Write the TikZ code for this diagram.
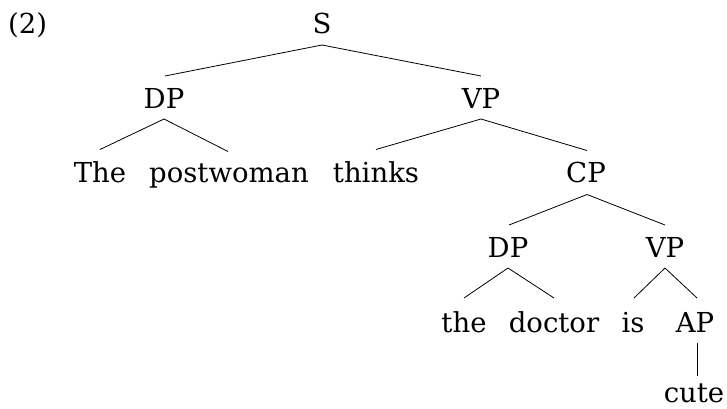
\documentclass[tikz,border=0pt]{standalone}
\usepackage{fontspec}
\setmainfont{DejaVu Serif}
\begin{document}
\begin{tikzpicture}[x=1pt,y=-1pt,
  lbl/.style={anchor=base,inner sep=0pt,font=\fontsize{27.5}{33}\selectfont},
  edge/.style={draw=black,line width=0.8pt}]
\useasboundingbox (0,0) rectangle (727,408);
\node[lbl,anchor=base west] (ex) at (8,33) {(2)};
\node[lbl] (S) at (322,33) {S};
\node[lbl] (DP1) at (164,108) {DP};
\node[lbl] (VP1) at (481,108) {VP};
\node[lbl] (The) at (100,182.5) {The};
\node[lbl] (pw) at (229,182.5) {postwoman};
\node[lbl] (thinks) at (376,182.5) {thinks};
\node[lbl] (CP) at (586,182.5) {CP};
\node[lbl] (DP2) at (508,257) {DP};
\node[lbl] (VP2) at (665,257) {VP};
\node[lbl] (the) at (464,332) {the};
\node[lbl] (doctor) at (554,332) {doctor};
\node[lbl] (is) at (633,332) {is};
\node[lbl] (AP) at (695,332) {AP};
\node[lbl,text depth=0pt] (cute) at (694,402) {cute};
\draw[edge] ([yshift=-12pt]S.base) -- ([xshift=1pt,yshift=32pt]DP1.base);
\draw[edge] ([yshift=-12pt]S.base) -- ([yshift=32pt]VP1.base);
\draw[edge] ([yshift=-11pt]DP1.base) -- ([yshift=33pt]The.base);
\draw[edge] ([yshift=-11pt]DP1.base) -- ([xshift=-1pt,yshift=31pt]pw.base);
\draw[edge] ([yshift=-11pt]VP1.base) -- ([yshift=33pt]thinks.base);
\draw[edge] ([yshift=-11pt]VP1.base) -- ([xshift=1pt,yshift=32pt]CP.base);
\draw[edge] ([xshift=1pt,yshift=-12pt]CP.base) -- ([xshift=1pt,yshift=32pt]DP2.base);
\draw[edge] ([xshift=1pt,yshift=-12pt]CP.base) -- ([yshift=32pt]VP2.base);
\draw[edge] ([yshift=-11pt]DP2.base) -- ([yshift=34pt]the.base);
\draw[edge] ([yshift=-11pt]DP2.base) -- ([yshift=34pt]doctor.base);
\draw[edge] ([yshift=-11pt]VP2.base) -- ([xshift=1pt,yshift=34pt]is.base);
\draw[edge] ([yshift=-11pt]VP2.base) -- ([xshift=2pt,yshift=34pt]AP.base);
\draw[edge] ([xshift=2pt,yshift=-11pt]AP.base) -- ([xshift=3pt,yshift=26pt]cute.base);
\end{tikzpicture}
\end{document}
